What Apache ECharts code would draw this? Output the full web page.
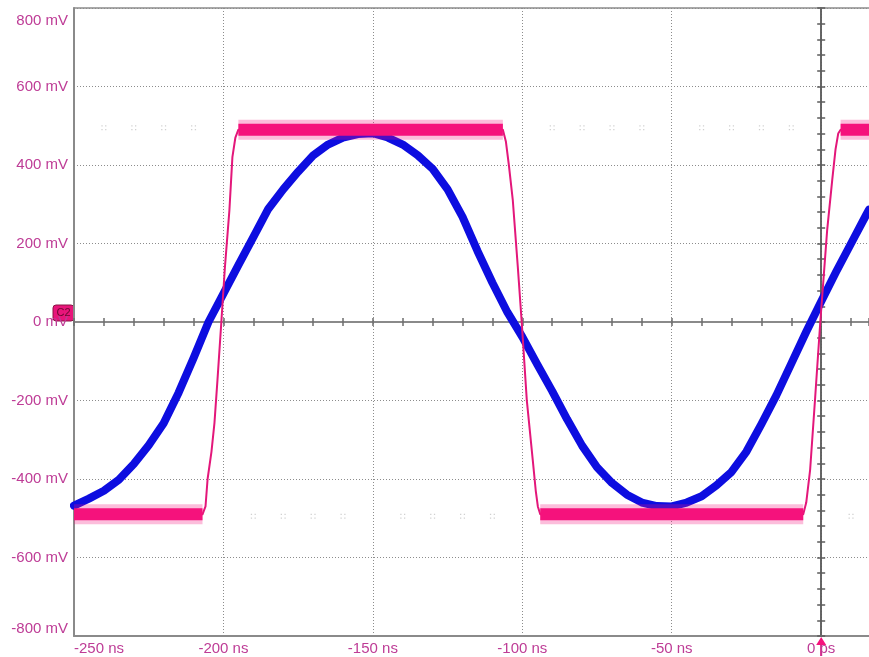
<!DOCTYPE html>
<html>
<head>
<meta charset="utf-8">
<script src="https://cdn.jsdelivr.net/npm/echarts@6/dist/echarts.min.js"></script>
<style>
  html, body { margin: 0; padding: 0; background: #ffffff; }
  #chart { width: 869px; height: 657px; }
</style>
</head>
<body>
<div id="chart"></div>
<script>
// Time base (ns) and vertical scale (mV)
const timeMin = -250;
const timeMax = 16;
const voltMin = -800;
const voltMax = 800;

// Channel C2 (pink): square wave with finite edges
const pinkTime = [-250, -207, -206, -205.3, -204, -203, -202, -200.7, -199.5, -198, -197, -196, -195,
  -106.5, -105.5, -104.5, -103.2, -101.5, -100.2, -98.5, -96.5, -95.5, -94.8, -94,
  -6, -5, -3.7, -2, -0.3, 2, 3.7, 4.8, 5.7, 6.5, 16];
const pinkVolt = [-490, -490, -470, -400, -330, -257, -148, 0, 140, 285, 420, 470, 490,
  490, 460, 400, 312, 140, 0, -199, -352, -430, -470, -490,
  -490, -460, -377, -191, 0, 234, 362, 440, 480, 490, 490];

// Blue channel: filtered sinusoid
const blueTime = [-250, -245, -240, -235, -230, -225, -220, -215, -210, -205, -200, -195, -190, -185,
  -180, -175, -170, -165, -160, -155, -150, -145, -140, -135, -130, -125, -120, -115, -110,
  -105, -100, -95, -90, -85, -80, -75, -70, -65, -60, -55, -50, -45, -40, -35, -30, -25,
  -20, -15, -10, -5, 0, 5, 10, 15, 16];
const blueVolt = [-468, -450, -430, -402, -362, -314, -258, -180, -92, 0, 72, 145, 216, 288,
  338, 383, 424, 452, 470, 479, 481, 470, 452, 425, 390, 338, 268, 181, 100,
  25, -38, -108, -176, -248, -315, -370, -410, -440, -460, -469, -470, -460, -444, -416, -382, -330,
  -260, -187, -106, -25, 52, 128, 200, 272, 286];

// Faint graticule dots at +/-500 mV, one per minor division
const dotTime = [-240, -230, -220, -210, -190, -180, -170, -160, -140, -130, -120, -110,
  -90, -80, -70, -60, -40, -30, -20, -10, 10];
const dotLevels = [495, -495];

// Axis tick labels
const timeLabels = { '-250': '-250 ns', '-200': '-200 ns', '-150': '-150 ns', '-100': '-100 ns', '-50': '-50 ns', '0': '0 ps' };

const labelColor = '#be3c96';
const pinkColor = '#f5127c';
const blueColor = '#0d0de0';
const fontFamily = '"Liberation Sans", Arial, sans-serif';

const pinkData = pinkTime.map((t, i) => [t, pinkVolt[i]]);
// Noisy band on the settled levels of the square wave
const pinkBand = pinkTime.map((t, i) => Math.abs(pinkVolt[i]) >= 488 ? [t, pinkVolt[i]] : [t, null]);
const blueData = blueTime.map((t, i) => [t, blueVolt[i]]);
const dotData = [];
dotLevels.forEach(v => dotTime.forEach(t => dotData.push([t, v])));

const dottedGrid = { show: true, showMaxLine: false, lineStyle: { color: '#8c8c8c', width: 1, type: [1, 2] } };

// Center crosshair axes: one with outward ticks, one with inward ticks
function centerX(inside) {
  return {
    type: 'value', min: timeMin, max: timeMax, interval: 10, position: 'bottom',
    axisLine: { show: true, onZero: true, onZeroAxisIndex: 0, lineStyle: { color: '#8a8a8a', width: 2 } },
    axisTick: { show: true, inside: inside, length: 4, lineStyle: { color: '#6e6e6e', width: 1.5 } },
    axisLabel: { show: false }, splitLine: { show: false }
  };
}
function centerY(inside) {
  return {
    type: 'value', min: voltMin, max: voltMax, interval: 40, position: 'left',
    axisLine: { show: true, onZero: true, onZeroAxisIndex: 0, lineStyle: { color: '#5c5c5c', width: 1.5 } },
    axisTick: { show: true, inside: inside, length: 4, lineStyle: { color: '#5c5c5c', width: 1.5 } },
    axisLabel: { show: false }, splitLine: { show: false }
  };
}

const chart = echarts.init(document.getElementById('chart'), null, { renderer: 'canvas' });

chart.setOption({
  animation: false,
  backgroundColor: '#ffffff',
  grid: { left: 74, top: 8, right: 0, height: 628, show: false },
  xAxis: [
    {
      type: 'value', min: timeMin, max: timeMax, interval: 50, position: 'bottom',
      axisLine: { show: true, onZero: false, lineStyle: { color: '#8a8a8a', width: 2 } },
      axisTick: { show: false },
      splitLine: dottedGrid,
      axisLabel: {
        color: labelColor, fontSize: 15, fontFamily: fontFamily, margin: 5,
        showMaxLabel: false, alignMinLabel: 'left',
        formatter: v => timeLabels[String(v)] || ''
      }
    },
    {
      // top frame line
      type: 'value', min: timeMin, max: timeMax, position: 'top',
      axisLine: { show: true, onZero: false, lineStyle: { color: '#8c8c8c', width: 1.5 } },
      axisTick: { show: false }, axisLabel: { show: false }, splitLine: { show: false }
    },
    centerX(false),
    centerX(true)
  ],
  yAxis: [
    {
      type: 'value', min: voltMin, max: voltMax, interval: 200, position: 'left',
      axisLine: { show: true, onZero: false, lineStyle: { color: '#8a8a8a', width: 2 } },
      axisTick: { show: false },
      splitLine: { show: true, lineStyle: { color: '#8c8c8c', width: 1, type: [1, 2] } },
      axisLabel: {
        color: labelColor, fontSize: 15, fontFamily: fontFamily, margin: 6,
        verticalAlignMaxLabel: 'top', verticalAlignMinLabel: 'bottom',
        formatter: v => (v === voltMax ? '{top|' + v + ' mV}' : v + ' mV'),
        rich: { top: { color: labelColor, fontSize: 15, fontFamily: fontFamily, padding: [5, 0, 0, 0] } }
      }
    },
    centerY(false),
    centerY(true)
  ],
  series: [
    {
      name: 'grid dots', type: 'scatter', data: dotData, z: 1, silent: true,
      symbol: 'path://M0,0h1v1h-1zM3,0h1v1h-1zM0,3h1v1h-1zM3,3h1v1h-1z', symbolSize: 5,
      itemStyle: { color: '#c4c4c4' }
    },
    {
      name: 'CH1', type: 'line', data: blueData, showSymbol: false, z: 3,
      lineStyle: { color: blueColor, width: 8, join: 'round', cap: 'round' }
    },
    {
      name: 'C2', type: 'line', data: pinkData, showSymbol: false, z: 4,
      lineStyle: { color: '#e3177a', width: 2, join: 'round' }
    },
    {
      name: 'C2 noise', type: 'line', data: pinkBand, showSymbol: false, connectNulls: false, z: 4,
      lineStyle: { color: pinkColor, width: 20, opacity: 0.28, cap: 'butt' }
    },
    {
      name: 'C2 band', type: 'line', data: pinkBand, showSymbol: false, connectNulls: false, z: 4,
      lineStyle: { color: pinkColor, width: 12, cap: 'butt' }
    }
  ]
});

// Channel marker on the left edge and trigger marker at t = 0
const zeroLeft = chart.convertToPixel({ xAxisIndex: 0, yAxisIndex: 0 }, [timeMin, 0]);
const trig = chart.convertToPixel({ xAxisIndex: 0, yAxisIndex: 0 }, [0, voltMin]);

chart.setOption({
  graphic: [
    {
      type: 'group', x: zeroLeft[0] - 21, y: zeroLeft[1] - 17, z: 100,
      children: [
        { type: 'rect', shape: { x: 0, y: 0, width: 21, height: 16, r: 3 },
          style: { fill: '#e8157a', stroke: '#8a1444', lineWidth: 1 } },
        { type: 'text', x: 10.5, y: 8,
          style: { text: 'C2', fill: '#6a0a30', font: '11px ' + fontFamily, align: 'center', verticalAlign: 'middle' } }
      ]
    },
    {
      type: 'group', x: trig[0], y: trig[1], z: 100,
      children: [
        { type: 'polygon', shape: { points: [[0, 1], [-5, 9], [5, 9]] }, style: { fill: pinkColor } },
        { type: 'rect', shape: { x: -1, y: 8, width: 2, height: 12 }, style: { fill: pinkColor } }
      ]
    }
  ]
});
</script>
</body>
</html>
